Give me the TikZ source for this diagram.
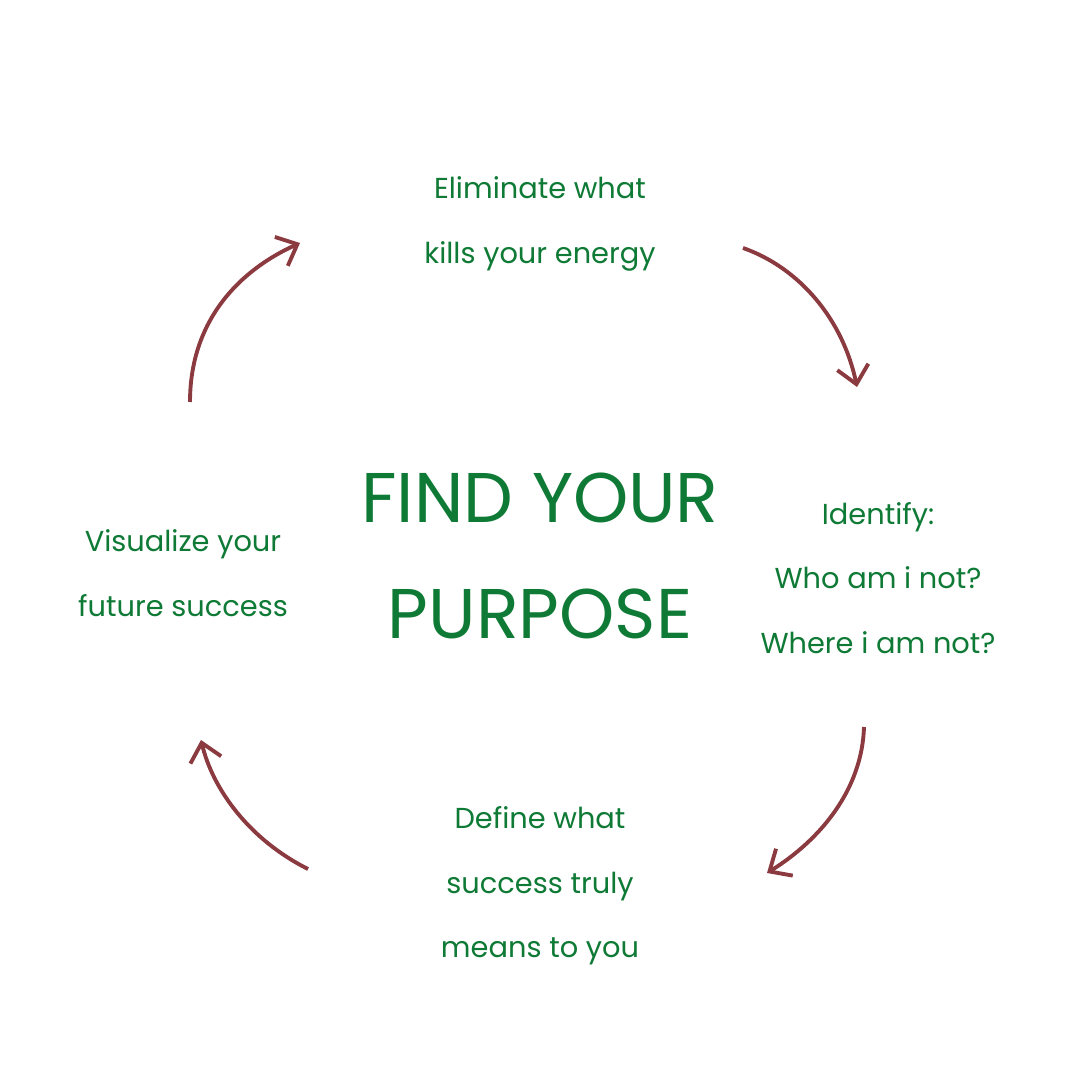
\documentclass[tikz,border=0pt]{standalone}
\usepackage{fontspec}
\setmainfont{Poppins}
\usepackage{xcolor}
\usetikzlibrary{arrows.meta}
\definecolor{leafgreen}{HTML}{0E7A35}
\definecolor{rust}{HTML}{8B3A40}
\tikzset{
  step text/.style={text=leafgreen, align=center, font=\fontsize{8.2}{18.3}\selectfont},
  cycle arrow/.style={draw=rust, line width=1.1pt, -{Straight Barb[length=5pt,width=9pt]}}
}

\begin{document}
\begin{tikzpicture}[x=0.01cm,y=-0.01cm]
\useasboundingbox[fill=white] (0,0) rectangle (1080,1080);
  \node[step text] (elim) at (540,224) {Eliminate what\\kills your energy};
  \node[step text] (ident) at (878,578) {Identify:\\Who am i not?\\Where i am not?};
  \node[step text] (define) at (540,886) {Define what\\success truly\\means to you};
  \node[step text] (visual) at (183,573) {Visualize your\\future success};
  \node[text=leafgreen, align=center, font=\fontsize{20}{33}\selectfont] (title) at (540,556) {FIND YOUR\\PURPOSE};
  % arrows round the cycle
  \coordinate (a1) at (190,402); \coordinate (b1) at (300,243);
  \coordinate (a2) at (743,248); \coordinate (b2) at (857,387);
  \coordinate (a3) at (864,727); \coordinate (b3) at (767,873);
  \coordinate (a4) at (308,869); \coordinate (b4) at (201,740);
  \draw[cycle arrow] (a1) .. controls (190,320) and (240,270) .. (b1);
  \draw[cycle arrow] (a2) .. controls (800,268) and (843,320) .. (b2);
  \draw[cycle arrow] (a3) .. controls (862,790) and (820,840) .. (b3);
  \draw[cycle arrow] (a4) .. controls (250,840) and (213,790) .. (b4);
\end{tikzpicture}
\end{document}
